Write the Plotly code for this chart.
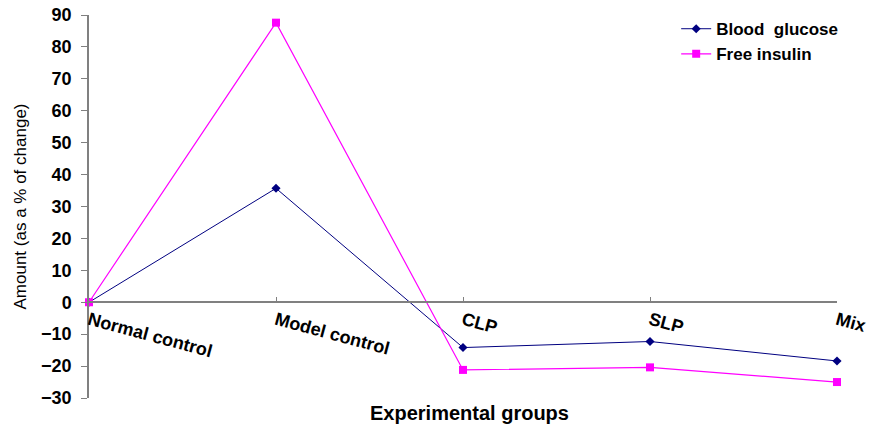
import plotly.graph_objects as go

groups = ["Normal control", "Model control", "CLP", "SLP", "Mix"]
blood_glucose = [0, 35.7, -14.2, -12.3, -18.4]
free_insulin = [0, 87.6, -21.2, -20.4, -25.0]
y_ticks = list(range(-30, 100, 10))

FONT = "Liberation Sans, Arial, sans-serif"

fig = go.Figure()
fig.add_trace(go.Scatter(
    x=groups, y=blood_glucose, name="Blood  glucose", mode="lines+markers",
    line=dict(color="#000080", width=1),
    marker=dict(symbol="diamond", size=7, color="#000080"),
    cliponaxis=False,
))
fig.add_trace(go.Scatter(
    x=groups, y=free_insulin, name="Free insulin", mode="lines+markers",
    line=dict(color="#FF00FF", width=1.2),
    marker=dict(symbol="square", size=8, color="#FF00FF"),
    cliponaxis=False,
))

fig.update_layout(
    width=872, height=424,
    margin=dict(l=89, r=35, t=15, b=26, autoexpand=False),
    plot_bgcolor="white", paper_bgcolor="white",
    font=dict(family=FONT, color="black"),
    showlegend=True,
    legend=dict(
        x=0.785, y=1.01, xanchor="left", yanchor="top",
        font=dict(family=FONT, size=17, color="black", weight="bold"),
        bgcolor="rgba(0,0,0,0)", itemwidth=30, tracegroupgap=2,
    ),
    xaxis=dict(
        type="category", range=[0, 4], anchor="free", position=0.25,
        automargin=False,
        showline=True, linecolor="#808080", linewidth=1.5,
        ticks="inside", ticklen=5, tickcolor="#808080",
        tickangle=15, showgrid=False, zeroline=False,
        tickfont=dict(family=FONT, size=18, color="black", weight="bold"),
    ),
    yaxis=dict(
        range=[-30, 90], tickvals=y_ticks, showgrid=False, zeroline=False,
        automargin=False,
        showline=True, linecolor="#808080", linewidth=1.5,
        ticks="outside", ticklen=6, tickcolor="#808080",
        ticklabelstandoff=6,
        tickfont=dict(family=FONT, size=18, color="black", weight="bold"),
        title=dict(text="Amount (as a % of change)",
                   font=dict(family="Liberation Sans Narrow, " + FONT, size=17, color="black"),
                   standoff=10),
    ),
    annotations=[dict(
        text="Experimental groups", xref="paper", yref="paper",
        x=0.509, y=-0.04, xanchor="center", yanchor="middle", showarrow=False,
        font=dict(family=FONT, size=20, color="black", weight="bold"),
    )],
)

fig.write_html("out.html")
